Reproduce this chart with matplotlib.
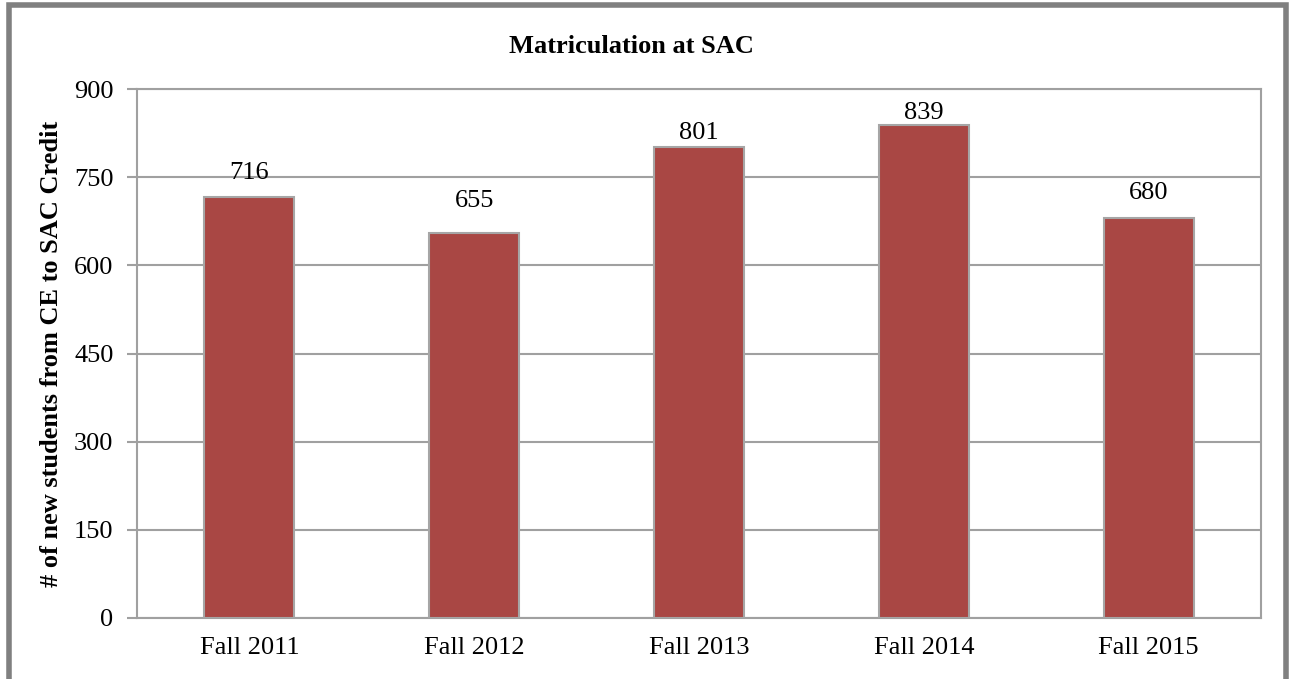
import matplotlib.pyplot as plt
from matplotlib.patches import Rectangle

categories = ['Fall 2011', 'Fall 2012', 'Fall 2013', 'Fall 2014', 'Fall 2015']
students = [716, 655, 801, 839, 680]
# gap between bar top and label baseline (points), as placed in the original
label_offsets = [13, 19, 6, 4, 14]

plt.rcParams['font.family'] = ['Liberation Serif', 'DejaVu Serif']

fig = plt.figure(figsize=(12.89, 6.79), dpi=100)
ax = fig.add_axes([137 / 1289, 1 - 618 / 679, (1261 - 137) / 1289, (618 - 89) / 679])

x = range(len(categories))
bars = ax.bar(x, students, width=0.4, color='#A94744', edgecolor='#A6A6A6', linewidth=1.5, zorder=3)

for b, v, off in zip(bars, students, label_offsets):
    ax.annotate(str(v), (b.get_x() + b.get_width() / 2, v), xytext=(0, off),
                textcoords='offset points', ha='center', va='baseline', fontsize=19, zorder=4)

ax.set_xlim(-0.5, len(categories) - 0.5)
ax.set_ylim(0, 900)
ax.set_yticks(range(0, 901, 150))
ax.set_xticks(list(x))
ax.set_xticklabels(categories)
ax.tick_params(axis='y', length=7, width=1.5, color='#A0A0A0', labelsize=19, pad=10)
ax.tick_params(axis='x', length=0, labelsize=19, pad=14)
ax.grid(axis='y', color='#A0A0A0', linewidth=1.5, zorder=0)
for s in ax.spines.values():
    s.set_color('#A0A0A0')
    s.set_linewidth(1.5)

fig.text(52 / 1289, 1 - 354 / 679, '# of new students from CE to SAC Credit', rotation=90,
         ha='center', va='center', fontsize=19, fontweight='bold')
fig.text(631 / 1289, 1 - 53 / 679, 'Matriculation at SAC', ha='center', va='baseline',
         fontsize=19, fontweight='bold')

# outer chart border
fig.patches.append(Rectangle((9 / 1289, -0.01), 1 - 12 / 1289, 1 - 5.5 / 679 + 0.01, transform=fig.transFigure,
                             fill=False, edgecolor='#808080', linewidth=4))

fig.savefig('out.png', dpi=100)
